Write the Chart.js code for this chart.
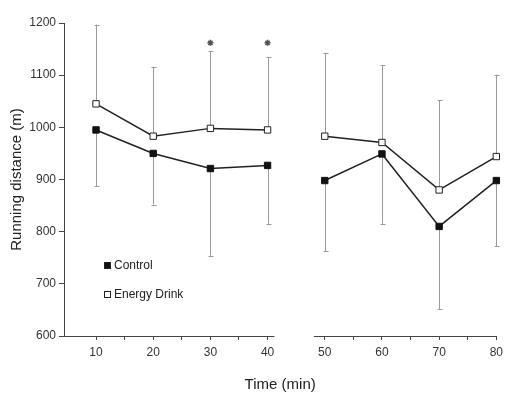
<!DOCTYPE html>
<html>
<head>
<meta charset="utf-8">
<script src="https://cdn.jsdelivr.net/npm/chart.js@4.4.1/dist/chart.umd.min.js"></script>
<style>
html, body { margin: 0; padding: 0; background: #fff; }
</style>
</head>
<body>
<canvas id="chart" width="508" height="394"></canvas>
<script>
// values
const times = [10, 20, 30, 40, 50, 60, 70, 80];
const controlMean = [995, 950, 921, 927, 898, 949, 810, 898];
const controlSD = [108, 98, 167, 112, 136, 134, 158, 126];
const drinkMean = [1045, 983, 998, 995, 983, 971, 880, 944];
const drinkSD = [152, 133, 148, 139, 160, 148, 172, 157];
const starTimes = [30, 40];
const starValues = [1162, 1162];
const xTicks = [10, 15, 20, 25, 30, 35, 40, 50, 55, 60, 65, 70, 75, 80];
const yTicks = [600, 700, 800, 900, 1000, 1100, 1200];
// broken time axis
const xMin = 4.4, xMax = 80, breakFrom = 41.2, breakTo = 48.1;

Chart.defaults.font.family = "'Liberation Sans', Arial, sans-serif";

function points(means) {
    return times.map((t, i) => ({ x: t, y: means[i] }));
}

// no line across the axis break
const gapSegment = {
    borderColor: ctx => (ctx.p0.parsed.x < breakFrom && ctx.p1.parsed.x > breakTo) ? 'rgba(0,0,0,0)' : undefined
};

// error bars: control downwards, energy drink upwards
const errorBars = {
    id: 'errorBars',
    beforeDatasetsDraw(chart) {
        const ctx = chart.ctx;
        const xs = chart.scales.x, ys = chart.scales.y;
        const sets = [
            { mean: drinkMean, sd: drinkSD, dir: 1 },
            { mean: controlMean, sd: controlSD, dir: -1 }
        ];
        ctx.save();
        ctx.strokeStyle = '#9a9a9a';
        ctx.lineWidth = 1;
        sets.forEach(s => {
            times.forEach((t, i) => {
                const px = Math.round(xs.getPixelForValue(t)) + 0.5;
                const y0 = ys.getPixelForValue(s.mean[i]);
                const y1 = ys.getPixelForValue(s.mean[i] + s.dir * s.sd[i]);
                ctx.beginPath();
                ctx.moveTo(px, y0);
                ctx.lineTo(px, y1);
                ctx.moveTo(px - 2, Math.round(y1) + 0.5);
                ctx.lineTo(px + 3, Math.round(y1) + 0.5);
                ctx.stroke();
            });
        });
        ctx.restore();
    }
};

// x axis line drawn in two pieces
const brokenAxis = {
    id: 'brokenAxis',
    afterDraw(chart) {
        const ctx = chart.ctx;
        const xs = chart.scales.x;
        const y = Math.round(chart.chartArea.bottom) + 0.5;
        ctx.save();
        ctx.strokeStyle = '#444';
        ctx.lineWidth = 1;
        ctx.beginPath();
        ctx.moveTo(xs.getPixelForValue(xMin), y);
        ctx.lineTo(xs.getPixelForValue(breakFrom), y);
        ctx.moveTo(xs.getPixelForValue(breakTo), y);
        ctx.lineTo(xs.getPixelForValue(xMax), y);
        ctx.stroke();
        ctx.restore();
    }
};

// legend inside the plot, lower left
const insideLegend = {
    id: 'insideLegend',
    afterDraw(chart) {
        const ctx = chart.ctx;
        const area = chart.chartArea;
        const items = [chart.data.datasets[1], chart.data.datasets[0]];
        ctx.save();
        ctx.font = "12px 'Liberation Sans', Arial, sans-serif";
        ctx.textBaseline = 'middle';
        items.forEach((ds, i) => {
            const x = area.left + 43;
            const y = area.top + 243 + i * 29;
            ctx.fillStyle = ds.pointBackgroundColor;
            ctx.strokeStyle = '#222';
            ctx.lineWidth = 1;
            ctx.fillRect(x - 2.5, y - 3.5, 6, 6);
            ctx.strokeRect(x - 2.5, y - 3.5, 6, 6);
            ctx.fillStyle = '#222';
            ctx.fillText(ds.label, x + 7, y);
        });
        ctx.restore();
    }
};

new Chart(document.getElementById('chart'), {
    type: 'line',
    data: {
        datasets: [
            {
                label: 'Energy Drink',
                data: points(drinkMean),
                borderColor: '#222',
                borderWidth: 1.5,
                pointStyle: 'rect',
                pointRadius: 4.5,
                pointBackgroundColor: '#fff',
                pointBorderColor: '#222',
                pointBorderWidth: 1,
                clip: false,
                segment: gapSegment
            },
            {
                label: 'Control',
                data: points(controlMean),
                borderColor: '#222',
                borderWidth: 1.5,
                pointStyle: 'rect',
                pointRadius: 4.5,
                pointBackgroundColor: '#111',
                pointBorderColor: '#111',
                pointBorderWidth: 1,
                clip: false,
                segment: gapSegment
            },
            {
                type: 'scatter',
                label: '',
                data: starTimes.map((t, i) => ({ x: t, y: starValues[i] })),
                pointStyle: 'star',
                pointRadius: 3,
                borderColor: '#555',
                borderWidth: 1.5,
                backgroundColor: '#555'
            }
        ]
    },
    options: {
        responsive: false,
        animation: false,
        layout: { padding: { top: 23, right: 9, left: 0, bottom: 0 } },
        plugins: {
            legend: { display: false },
            tooltip: { enabled: false }
        },
        scales: {
            x: {
                type: 'linear',
                min: xMin,
                max: xMax,
                afterBuildTicks: s => { s.ticks = xTicks.map(v => ({ value: v })); },
                afterFit: s => { s.height = 58; },
                border: { display: false },
                grid: { drawOnChartArea: false, tickLength: 4, color: '#444' },
                ticks: {
                    autoSkip: false,
                    maxRotation: 0,
                    padding: 5,
                    color: '#333',
                    font: { size: 12 },
                    callback: v => (v % 10 === 0 ? String(v) : '')
                },
                title: {
                    display: true,
                    text: 'Time (min)',
                    color: '#222',
                    font: { size: 15 },
                    padding: { top: 0, bottom: 0 }
                }
            },
            y: {
                min: 600,
                max: 1200,
                afterBuildTicks: s => { s.ticks = yTicks.map(v => ({ value: v })); },
                afterFit: s => { s.width = 64; },
                border: { display: true, color: '#444', width: 1 },
                grid: { drawOnChartArea: false, tickLength: 5, color: '#444' },
                ticks: { padding: 3, color: '#333', font: { size: 12 }, callback: v => String(v) },
                title: {
                    display: true,
                    text: 'Running distance (m)',
                    color: '#222',
                    font: { size: 15 },
                    padding: { top: 8, bottom: 0 }
                }
            }
        }
    },
    plugins: [errorBars, brokenAxis, insideLegend]
});
</script>
</body>
</html>
